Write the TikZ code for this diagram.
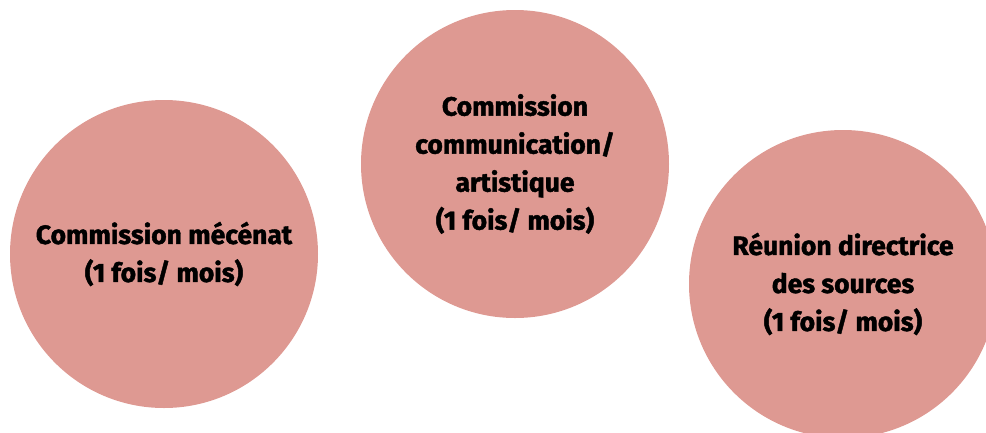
\documentclass[tikz,border=0pt]{standalone}
\usepackage{fontspec}
\setmainfont{Fira Sans}[BoldFeatures={FakeBold=1.6}]
\usepackage{tikz}
\usetikzlibrary{positioning}
\definecolor{rosecircle}{RGB}{222,153,146}
\tikzset{
    meeting/.style={circle, fill=rosecircle, minimum size=308pt, inner sep=0pt,
        align=center, font=\fontsize{26.5}{38}\selectfont\bfseries}
}
\begin{document}
\begin{tikzpicture}[x=1pt, y=-1pt]
        \useasboundingbox (0,0) rectangle (986,432);
        \clip (0,0) rectangle (986,432);

        \node[meeting] (mecenat) at (164,254) {Commission mécénat\\(1 fois/ mois)};
        \node[meeting] (comart) at (515,164) {Commission\\communication/\\artistique\\(1 fois/ mois)};
        \node[meeting] (reunion) at (843,284) {Réunion directrice\\des sources\\(1 fois/ mois)};
    \end{tikzpicture}
\end{document}
